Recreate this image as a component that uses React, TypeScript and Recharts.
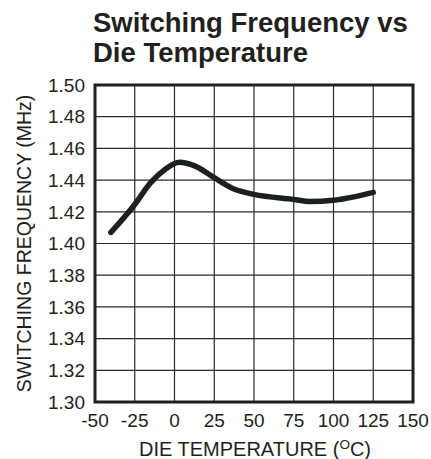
import { CartesianGrid, Line, LineChart, ReferenceArea, XAxis, YAxis } from 'recharts';

const TEMPS = [-40, -25, -15, -6, 3, 13, 25, 37, 50, 75, 85, 100, 125];
const FREQS = [1.407, 1.4246, 1.4384, 1.4467, 1.4512, 1.4488, 1.4415, 1.4346, 1.431, 1.4278, 1.4265, 1.4273, 1.4323];
const X_TICKS = [-50, -25, 0, 25, 50, 75, 100, 125, 150];
const Y_TICKS = [1.3, 1.32, 1.34, 1.36, 1.38, 1.4, 1.42, 1.44, 1.46, 1.48, 1.5];

const FONT = '"Liberation Sans", Arial, Helvetica, sans-serif';
const INK = '#231f20';

const data = TEMPS.map((t, i) => ({ t, f: FREQS[i] }));

export default function App() {
  return (
    <div style={{ position: 'relative', width: 431, height: 459, background: '#fff' }}>
      <style>{'body{margin:0}'}</style>
      <div
        style={{
          position: 'absolute',
          left: 93,
          top: 8,
          fontFamily: FONT,
          fontWeight: 'bold',
          fontSize: 27.5,
          lineHeight: '30px',
          color: INK,
          whiteSpace: 'nowrap',
        }}
      >
        Switching Frequency vs
        <br />
        Die Temperature
      </div>
      <LineChart width={431} height={459} data={data} margin={{ top: 85, right: 18, bottom: 0, left: 0 }}>
        <CartesianGrid stroke="#2a2a2a" strokeWidth={1.2} />
        <XAxis
          dataKey="t"
          type="number"
          domain={[-50, 150]}
          ticks={X_TICKS}
          interval={0}
          height={57}
          axisLine={false}
          tickLine={false}
          tickSize={0}
          tickMargin={12}
          tick={{ fontSize: 19, fontFamily: FONT, fill: INK }}
          label={{
            content: (props: any) => {
              const vb = props.viewBox;
              return (
                <text
                  x={vb.x + vb.width / 2 + 1}
                  y={456}
                  textAnchor="middle"
                  fontSize={20}
                  fontFamily={FONT}
                  fill={INK}
                >
                  DIE TEMPERATURE (
                  <tspan dy={-7} fontSize={13.5}>O</tspan>
                  <tspan dy={7}>C)</tspan>
                </text>
              );
            },
          }}
        />
        <YAxis
          type="number"
          domain={[1.3, 1.5]}
          ticks={Y_TICKS}
          interval={0}
          width={95}
          axisLine={false}
          tickLine={false}
          tickSize={0}
          tickMargin={10}
          tickFormatter={(v: number) => v.toFixed(2)}
          tick={{ fontSize: 19, fontFamily: FONT, fill: INK }}
          label={{
            content: (props: any) => {
              const vb = props.viewBox;
              const cy = vb.y + vb.height / 2;
              return (
                <text
                  x={24}
                  y={cy}
                  transform={`rotate(-90 24 ${cy})`}
                  textAnchor="middle"
                  dominantBaseline="central"
                  fontSize={19.5}
                  fontFamily={FONT}
                  fill={INK}
                >
                  SWITCHING FREQUENCY (MHz)
                </text>
              );
            },
          }}
        />
        <ReferenceArea x1={-50} x2={150} y1={1.3} y2={1.5} fill="none" stroke={INK} strokeWidth={3} ifOverflow="visible" />
        <Line
          type="monotone"
          dataKey="f"
          stroke="#1b211c"
          strokeWidth={5.5}
          strokeLinecap="round"
          dot={false}
          activeDot={false}
          isAnimationActive={false}
        />
      </LineChart>
    </div>
  );
}
